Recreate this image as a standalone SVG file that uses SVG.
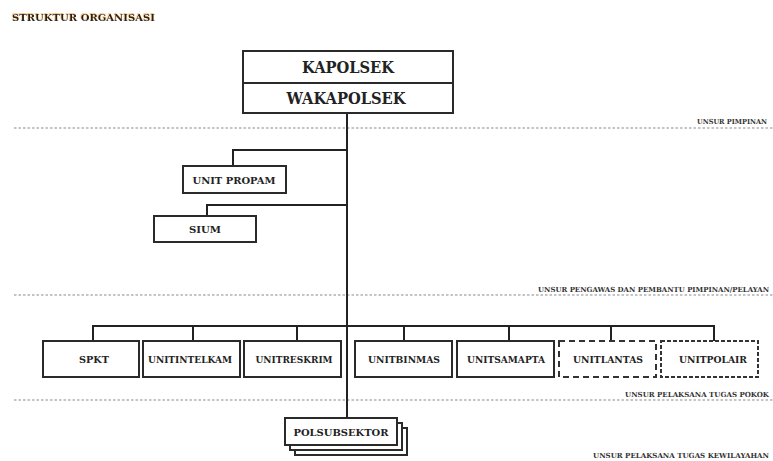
<svg xmlns="http://www.w3.org/2000/svg" width="773" height="461" viewBox="0 0 773 461">
<defs>
<style>
text{font-family:"DejaVu Serif","Liberation Serif",serif;font-weight:bold;fill:#222}
.box{fill:#fff;stroke:#2a2a2a;stroke-width:2}
.dash1{fill:#fff;stroke:#333;stroke-width:2;stroke-dasharray:6 4}
.dash2{fill:#fff;stroke:#333;stroke-width:2;stroke-dasharray:4 2}
.conn{fill:none;stroke:#222;stroke-width:2}
.sep{stroke:#8a8a8a;stroke-width:1.2;stroke-dasharray:2.5 2}
.lbl{font-size:10px;text-anchor:middle}
.big{font-size:16px;text-anchor:middle}
.sec{font-size:7px;fill:#333}
</style>
<filter id="glow" x="-5%" y="-50%" width="110%" height="200%">
<feDropShadow dx="-0.6" dy="-1" stdDeviation="0.4" flood-color="#f0a030" flood-opacity="0.7"/>
</filter>
</defs>
<rect width="773" height="461" fill="#fff"/>
<text x="12" y="21" font-size="9" textLength="143" lengthAdjust="spacingAndGlyphs" filter="url(#glow)" fill="#1a2030">STRUKTUR ORGANISASI</text>

<g id="separators">
<line class="sep" x1="14" y1="128" x2="773" y2="128"/>
<line class="sep" x1="14" y1="295" x2="773" y2="295"/>
<line class="sep" x1="14" y1="400" x2="773" y2="400"/>
<text class="sec" x="697" y="124" textLength="70" lengthAdjust="spacingAndGlyphs">UNSUR PIMPINAN</text>
<text class="sec" x="538" y="292" textLength="231" lengthAdjust="spacingAndGlyphs">UNSUR PENGAWAS DAN PEMBANTU PIMPINAN/PELAYAN</text>
<text class="sec" x="625" y="397" textLength="144" lengthAdjust="spacingAndGlyphs">UNSUR PELAKSANA TUGAS POKOK</text>
<text class="sec" x="593" y="458" textLength="176" lengthAdjust="spacingAndGlyphs">UNSUR PELAKSANA TUGAS KEWILAYAHAN</text>
</g>

<g id="connectors">
<line class="conn" x1="347" y1="113" x2="347" y2="418"/>
<polyline class="conn" points="347,150 233,150 233,166"/>
<polyline class="conn" points="347,205 207,205 207,216"/>
<line class="conn" x1="92" y1="326" x2="715" y2="326"/>
<line class="conn" x1="93" y1="326" x2="93" y2="341"/>
<line class="conn" x1="193" y1="326" x2="193" y2="341"/>
<line class="conn" x1="297" y1="326" x2="297" y2="341"/>
<line class="conn" x1="404" y1="326" x2="404" y2="341"/>
<line class="conn" x1="509" y1="326" x2="509" y2="341"/>
<line class="conn" x1="611" y1="326" x2="611" y2="341"/>
<line class="conn" x1="714" y1="326" x2="714" y2="341"/>
</g>

<g id="kapolsek">
<rect class="box" x="243" y="51" width="210" height="32"/>
<text class="big" x="348" y="73" textLength="92" lengthAdjust="spacingAndGlyphs">KAPOLSEK</text>
</g>
<g id="wakapolsek">
<rect class="box" x="243" y="83" width="210" height="30"/>
<text class="big" x="346" y="104" textLength="119" lengthAdjust="spacingAndGlyphs">WAKAPOLSEK</text>
</g>

<g id="unit-propam">
<rect class="box" x="183" y="166" width="103" height="27"/>
<text class="lbl" x="234" y="184" textLength="83" lengthAdjust="spacingAndGlyphs">UNIT PROPAM</text>
</g>
<g id="sium">
<rect class="box" x="154" y="216" width="102" height="26"/>
<text class="lbl" x="205" y="233" textLength="32" lengthAdjust="spacingAndGlyphs">SIUM</text>
</g>

<g id="spkt">
<rect class="box" x="43" y="341" width="96" height="36"/>
<text class="lbl" x="94" y="363" textLength="30" lengthAdjust="spacingAndGlyphs">SPKT</text>
</g>
<g id="unitintelkam">
<rect class="box" x="143" y="341" width="97" height="36"/>
<text class="lbl" x="190" y="363" textLength="84" lengthAdjust="spacingAndGlyphs">UNITINTELKAM</text>
</g>
<g id="unitreskrim">
<rect class="box" x="244" y="341" width="97" height="36"/>
<text class="lbl" x="294" y="363" textLength="77" lengthAdjust="spacingAndGlyphs">UNITRESKRIM</text>
</g>
<g id="unitbinmas">
<rect class="box" x="355" y="341" width="97" height="36"/>
<text class="lbl" x="404" y="363" textLength="72" lengthAdjust="spacingAndGlyphs">UNITBINMAS</text>
</g>
<g id="unitsamapta">
<rect class="box" x="457" y="341" width="97" height="36"/>
<text class="lbl" x="506" y="363" textLength="78" lengthAdjust="spacingAndGlyphs">UNITSAMAPTA</text>
</g>
<g id="unitlantas">
<rect class="dash1" x="559" y="341" width="97" height="36"/>
<text class="lbl" x="608" y="363" textLength="70" lengthAdjust="spacingAndGlyphs">UNITLANTAS</text>
</g>
<g id="unitpolair">
<rect class="dash2" x="661" y="341" width="97" height="36"/>
<text class="lbl" x="713" y="363" textLength="68" lengthAdjust="spacingAndGlyphs">UNITPOLAIR</text>
</g>

<g id="polsubsektor">
<rect class="box" x="295" y="428" width="112" height="27"/>
<rect class="box" x="290" y="423" width="112" height="27"/>
<rect class="box" x="285" y="418" width="112" height="27"/>
<text class="lbl" x="341" y="436" textLength="95" lengthAdjust="spacingAndGlyphs">POLSUBSEKTOR</text>
</g>
</svg>
